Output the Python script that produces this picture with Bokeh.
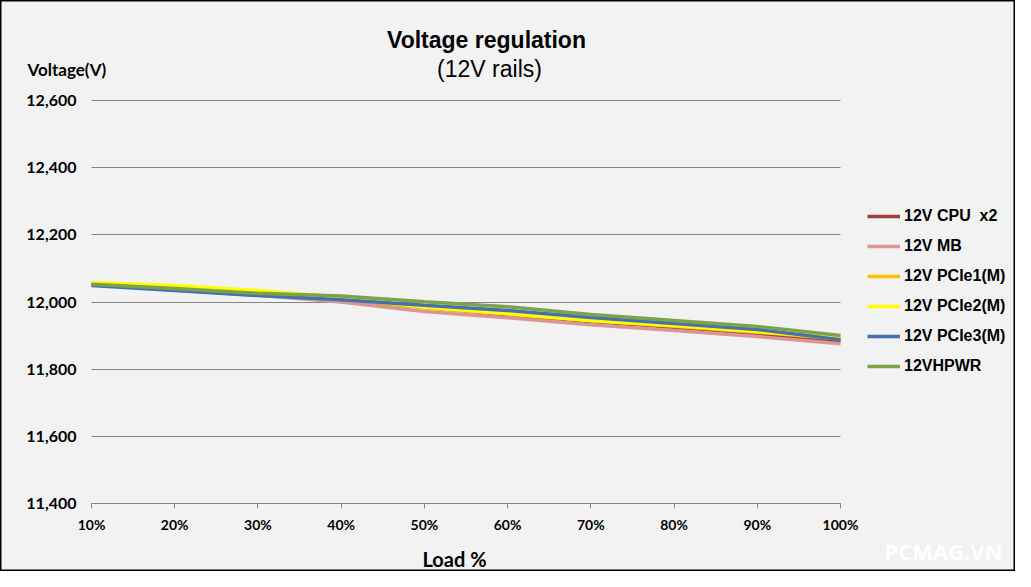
from bokeh.plotting import figure
from bokeh.models import (Range1d, FixedTicker, NumeralTickFormatter, PrintfTickFormatter,
                          Label, Legend, LegendItem, Grid)
from bokeh.embed import file_html
from bokeh.resources import INLINE

# ---- data ----
load_pct = [10, 20, 30, 40, 50, 60, 70, 80, 90, 100]
cpu_x2 = [12052, 12038, 12022, 12005, 11984, 11962, 11942, 11925, 11906, 11882]
mb = [12052, 12036, 12020, 12000, 11972, 11953, 11932, 11915, 11897, 11876]
pcie1 = [12056, 12046, 12030, 12010, 11983, 11964, 11944, 11928, 11910, 11890]
pcie2 = [12058, 12049, 12034, 12014, 11985, 11966, 11945, 11930, 11912, 11894]
pcie3 = [12049, 12034, 12019, 12007, 11990, 11975, 11954, 11936, 11918, 11888]
hpwr = [12053, 12040, 12026, 12018, 12001, 11986, 11963, 11945, 11927, 11900]

series_names = ["12V CPU  x2", "12V MB", "12V PCIe1(M)", "12V PCIe2(M)", "12V PCIe3(M)", "12VHPWR"]
series_values = [cpu_x2, mb, pcie1, pcie2, pcie3, hpwr]
series_colors = ["#a0403e", "#d99694", "#ffc000", "#ffff00", "#4472b0", "#7ea24a"]
y_ticks = [11400, 11600, 11800, 12000, 12200, 12400, 12600]
y_min, y_max = 11400, 12600
x_min, x_max = 10, 100

# ---- layout (pixels) ----
W, H = 1015, 571
PL, PR, PT, PB = 91, 840, 100, 503          # plotting area edges
sx = (x_max - x_min) / (PR - PL)           # data per pixel
sy = (y_max - y_min) / (PB - PT)
TEXT_SHIFT = 8                              # label baseline correction

def px2x(px):
    return x_min + (px - PL) * sx

def py2y(py):
    return y_max - (py - PT) * sy

BG = "#f2f2f2"
GRID = "#868686"

p = figure(width=W, height=H, output_backend="svg", toolbar_location=None,
           x_range=Range1d(px2x(0), px2x(W)), y_range=Range1d(py2y(H), py2y(0)),
           min_border=0)
p.background_fill_color = BG
p.border_fill_color = BG
p.outline_line_color = "#000000"
p.outline_line_width = 2

# axes at fixed locations inside the canvas
p.xaxis.fixed_location = y_min
p.xaxis.bounds = (x_min, x_max)
p.xaxis.ticker = FixedTicker(ticks=load_pct)
p.xaxis.formatter = PrintfTickFormatter(format="%d%%")
p.xaxis.axis_line_color = GRID
p.xaxis.major_tick_line_color = GRID
p.xaxis.major_tick_out = 5
p.xaxis.major_tick_in = 0
p.xaxis.minor_tick_line_color = None
p.xaxis.major_label_standoff = 7
p.xaxis.major_label_text_font = "Lato"
p.xaxis.major_label_text_font_style = "bold"
p.xaxis.major_label_text_font_size = "14px"
p.xaxis.major_label_text_color = "#000000"

p.yaxis.fixed_location = x_min
p.yaxis.bounds = (y_min, y_max)
p.yaxis.ticker = FixedTicker(ticks=y_ticks)
p.yaxis.formatter = NumeralTickFormatter(format="0,0")
p.yaxis.axis_line_color = None
p.yaxis.major_tick_line_color = None
p.yaxis.minor_tick_line_color = None
p.yaxis.major_tick_out = 0
p.yaxis.major_tick_in = 0
p.yaxis.major_label_standoff = 15
p.yaxis.major_label_text_font = "Lato"
p.yaxis.major_label_text_font_style = "bold"
p.yaxis.major_label_text_font_size = "16px"
p.yaxis.major_label_text_color = "#000000"

p.xgrid.visible = False
if "cross_bounds" in Grid.properties():
    p.ygrid.ticker = FixedTicker(ticks=y_ticks)
    p.ygrid.bounds = (y_min, y_max)
    p.ygrid.cross_bounds = (x_min, x_max)
    p.ygrid.grid_line_color = GRID
    p.ygrid.grid_line_width = 1
else:
    p.ygrid.visible = False
    p.segment(x0=[x_min] * len(y_ticks), x1=[x_max] * len(y_ticks), y0=y_ticks, y1=y_ticks,
              line_color=GRID, line_width=1)

items = []
for name, vals, col in zip(series_names, series_values, series_colors):
    r = p.line(load_pct, vals, line_color=col, line_width=3.5)
    items.append(LegendItem(label=name, renderers=[r]))

legend = Legend(items=items, location=(867, H - 381), padding=0, spacing=0, margin=0,
                glyph_width=33, glyph_height=30, label_height=30, label_standoff=4,
                label_text_font="Liberation Sans", label_text_font_style="bold",
                label_text_font_size="16px", label_text_color="#000000",
                border_line_color=None, background_fill_alpha=0)
p.add_layout(legend, "center")

# texts
def add_text(px, py, text, font, size, bold=True, align="left", color="#000000"):
    p.add_layout(Label(x=px2x(px), y=py2y(py - TEXT_SHIFT), text=text, text_align=align,
                       text_baseline="alphabetic", text_font=font,
                       text_font_style="bold" if bold else "normal",
                       text_font_size=size, text_color=color))

add_text(486, 47, "Voltage regulation", "Liberation Sans", "23px", align="center")
add_text(489, 76, "(12V rails)", "Liberation Sans", "23px", bold=False, align="center")
add_text(27, 77, "Voltage(V)", "Lato", "17px")
add_text(454, 566, "Load %", "Lato", "20px", align="center")
add_text(1002, 558, "PCMAG.VN", "Open Sans", "22px", align="right", color="#ffffff")

open("out.html", "w").write(file_html(p, INLINE))
